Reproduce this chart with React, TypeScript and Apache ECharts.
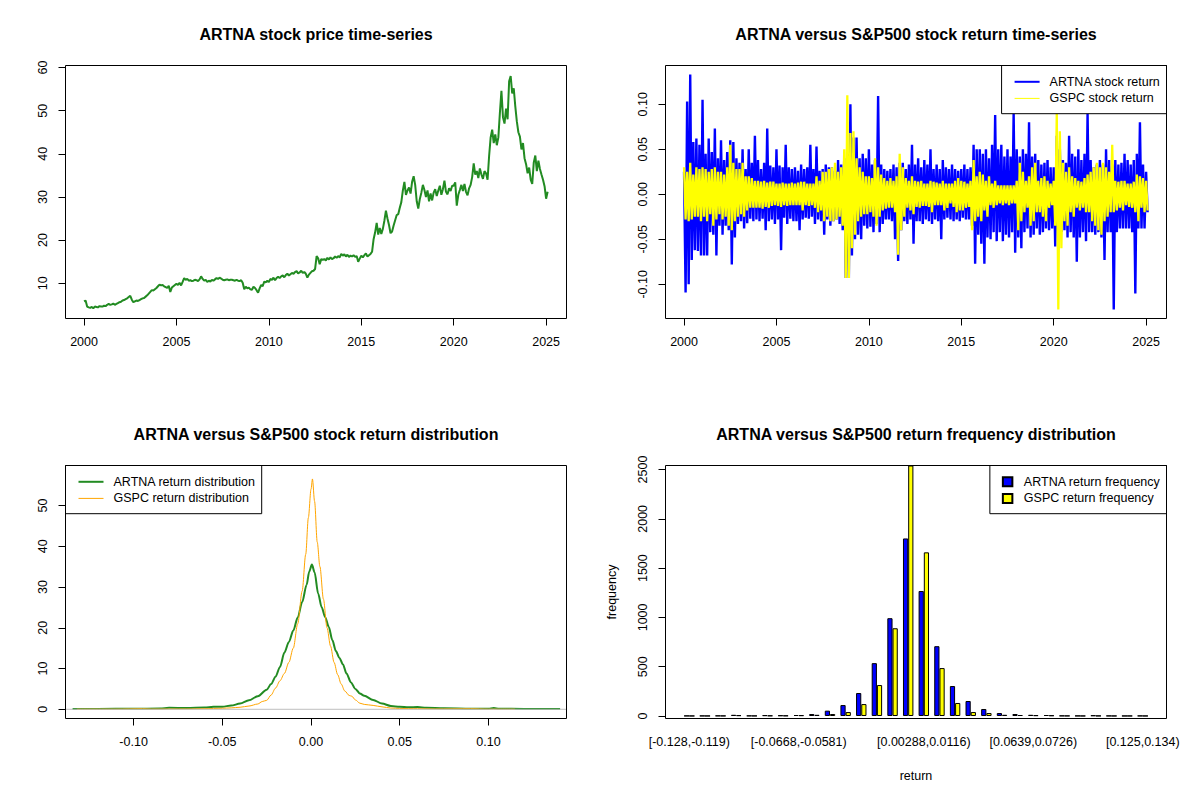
import React, { useEffect, useRef } from 'react';
import * as echarts from 'echarts';

const FONT = '"Liberation Sans", Arial, Helvetica, sans-serif';
const FOREST = '#228B22';
const BLUE = '#0000FF';
const YELLOW = '#FFFF00';
const ORANGE = '#FFA500';

// monthly ARTNA closing price, Jan 2000 .. Feb 2025
const artnaPrice = [
  5.8, 6.0, 4.6, 4.4, 4.3, 4.5, 4.2, 4.6, 4.5, 4.4, 4.7, 4.6, // 2000
  4.6, 4.8, 4.7, 5.0, 5.2, 5.0, 5.1, 5.3, 5.0, 5.2, 5.4, 5.6, // 2001
  5.7, 6.0, 6.1, 6.3, 6.5, 6.8, 7.1, 6.2, 5.6, 5.8, 6.0, 5.9, // 2002
  6.1, 6.3, 6.5, 6.6, 6.9, 7.2, 7.6, 8.0, 8.4, 8.3, 8.6, 8.9, // 2003
  9.3, 9.7, 9.5, 9.6, 9.3, 9.1, 8.9, 9.4, 8.0, 9.0, 9.3, 9.6, // 2004
  9.9, 9.6, 10.1, 9.5, 10.3, 11.2, 10.8, 11.0, 10.6, 10.7, 10.5, 10.6, // 2005
  10.8, 10.7, 10.5, 10.9, 11.6, 11.0, 10.6, 10.8, 10.3, 10.6, 10.4, 10.8, // 2006
  10.6, 10.9, 11.2, 11.0, 11.3, 11.1, 10.8, 10.7, 10.8, 10.9, 10.7, 10.8, // 2007
  10.8, 10.7, 10.6, 10.8, 10.6, 10.5, 10.7, 10.1, 8.6, 9.2, 8.8, 9.0, // 2008
  8.6, 8.5, 9.2, 8.9, 8.4, 7.8, 8.8, 9.6, 9.3, 10.4, 10.2, 10.6, // 2009
  10.3, 11.0, 10.8, 11.3, 10.7, 11.2, 11.5, 11.2, 11.6, 11.8, 11.4, 11.9, // 2010
  12.2, 11.8, 12.1, 12.4, 12.2, 12.6, 12.8, 12.3, 12.5, 12.9, 12.4, 12.6, // 2011
  12.2, 11.3, 12.0, 12.4, 12.8, 12.9, 13.3, 16.3, 15.8, 14.4, 15.6, 15.4, // 2012
  15.6, 15.3, 15.9, 15.5, 16.0, 15.6, 15.8, 16.2, 15.9, 16.3, 16.0, 16.8, // 2013
  16.4, 16.7, 16.2, 16.6, 16.1, 16.4, 16.2, 16.5, 16.1, 16.3, 15.0, 15.7, // 2014
  16.4, 16.0, 16.5, 16.9, 16.2, 16.5, 16.8, 17.3, 20.2, 21.8, 24.0, 21.3, // 2015
  22.8, 21.4, 22.6, 24.5, 26.8, 25.0, 23.5, 21.6, 22.0, 23.4, 24.6, 25.8, // 2016
  26.0, 27.5, 28.8, 31.5, 33.5, 30.5, 31.5, 32.2, 30.8, 33.5, 34.8, 32.8, // 2017
  29.0, 27.3, 29.5, 31.0, 32.8, 31.6, 30.0, 31.5, 29.0, 30.8, 29.2, 31.0, // 2018
  31.8, 30.2, 31.5, 32.6, 30.5, 31.8, 33.8, 31.2, 30.6, 32.0, 31.4, 32.6, // 2019
  32.6, 33.4, 28.0, 30.5, 31.6, 32.8, 31.4, 33.0, 31.2, 30.4, 32.0, 32.8, // 2020
  34.6, 37.8, 35.2, 36.0, 34.4, 36.6, 35.2, 34.2, 36.0, 35.5, 34.0, 39.5, // 2021
  43.8, 45.6, 42.5, 44.5, 42.0, 43.8, 49.5, 54.6, 48.5, 47.0, 50.5, 48.0, // 2022
  56.8, 58.0, 54.0, 55.2, 51.0, 47.5, 45.0, 44.0, 41.0, 42.5, 39.0, 37.6, // 2023
  35.5, 36.8, 34.0, 33.0, 38.0, 39.6, 36.0, 38.4, 36.5, 35.2, 34.0, 32.5, // 2024
  29.6, 31.2, // 2025
];

// sampled ARTNA daily returns (x1000), alternating swings, Jan 2000 .. Feb 2025
const artnaReturn = [
  25, -109, 103, -100, 133, -73, 58, -62, 62, -63, 55, -68, // 2000
  105, -68, 45, -68, 62, -42, 47, -45, 73, -68, 40, -35, // 2001
  60, -45, 38, -35, 47, -40, 60, -78, 58, -48, 40, -33, // 2002
  35, -30, 50, -38, 28, -32, 50, -27, 35, -30, 65, -28, // 2003
  38, -30, 28, -27, 35, -40, 73, -30, 32, -28, 30, -33, // 2004
  50, -28, 32, -62, 30, -26, 55, -33, 30, -27, 28, -30, // 2005
  30, -30, 26, -40, 33, -28, 28, -26, 30, -27, 55, -25, // 2006
  28, -33, 53, -28, 26, -30, 28, -45, 33, -28, 30, -35, // 2007
  30, -30, 26, -28, 38, -33, 33, -40, 40, -93, 45, -93, // 2008
  100, -68, 63, -50, 63, -45, 40, -50, 45, -35, 40, -38, // 2009
  50, -36, 33, -42, 38, -33, 109, -42, 33, -33, 28, -28, // 2010
  26, -28, 28, -30, 33, -50, 30, -74, 35, -40, 35, -30, // 2011
  28, -33, 33, -28, 55, -55, 33, -30, 40, -30, 30, -33, // 2012
  38, -28, 33, -30, 50, -33, 28, -28, 33, -30, 28, -50, // 2013
  38, -28, 30, -26, 28, -28, 33, -30, 28, -28, 26, -30, // 2014
  28, -26, 33, -28, 28, -28, 30, -35, 55, -77, 50, -45, // 2015
  50, -55, 45, -77, 50, -48, 40, -50, 55, -42, 88, -52, // 2016
  50, -42, 55, -52, 42, -45, 50, -48, 42, -42, 90, -65, // 2017
  50, -48, 42, -60, 50, -42, 45, -38, 80, -48, 42, -45, // 2018
  45, -38, 38, -45, 33, -42, 35, -38, 38, -40, 30, -38, // 2019
  30, -58, 65, -60, 50, -42, 38, -40, 35, -48, 65, -42, // 2020
  45, -48, 42, -75, 50, -48, 38, -42, 45, -52, 90, -42, // 2021
  38, -42, 30, -45, 33, -42, 38, -48, 33, -73, 50, -42, // 2022
  38, -42, 33, -128, 38, -42, 33, -38, 35, -38, 45, -38, // 2023
  38, -38, 33, -42, 38, -110, 45, -38, 80, -38, 33, -38, // 2024
  25, -20, // 2025
];

// sampled S&P500 (GSPC) daily returns (x1000)
const gspcReturn = [
  30, -28, 25, -30, 35, -28, 22, -25, 30, -25, 28, -30, // 2000
  30, -25, 28, -30, 25, -22, 28, -35, 30, -28, 25, -22, // 2001
  25, -28, 22, -25, 30, -35, 55, -40, 35, -30, 28, -25, // 2002
  28, -22, 35, -25, 20, -18, 20, -15, 18, -15, 15, -15, // 2003
  15, -15, 14, -16, 15, -14, 13, -15, 14, -13, 14, -12, // 2004
  12, -13, 12, -14, 13, -12, 12, -13, 12, -12, 13, -12, // 2005
  12, -12, 13, -12, 14, -18, 14, -12, 12, -13, 12, -12, // 2006
  12, -15, 20, -20, 15, -18, 25, -30, 25, -25, 28, -30, // 2007
  30, -30, 35, -28, 25, -25, 30, -35, 50, -93, 110, -93, // 2008
  68, -60, 70, -45, 40, -30, 30, -25, 25, -22, 20, -22, // 2009
  20, -20, 18, -25, 40, -35, 30, -25, 22, -18, 18, -16, // 2010
  15, -15, 18, -15, 15, -20, 20, -67, 45, -40, 30, -25, // 2011
  18, -15, 15, -18, 20, -22, 15, -14, 14, -15, 15, -13, // 2012
  12, -13, 12, -14, 15, -20, 14, -12, 13, -12, 12, -12, // 2013
  15, -18, 12, -15, 12, -10, 12, -14, 15, -20, 18, -18, // 2014
  15, -18, 14, -15, 12, -14, 15, -40, 38, -30, 20, -25, // 2015
  25, -30, 22, -18, 15, -25, 20, -12, 12, -15, 15, -12, // 2016
  10, -10, 10, -12, 10, -10, 10, -12, 10, -10, 10, -10, // 2017
  15, -40, 35, -30, 25, -20, 15, -15, 20, -35, 30, -30, // 2018
  35, -20, 15, -20, 18, -25, 20, -30, 15, -15, 12, -12, // 2019
  15, -35, 90, -128, 70, -60, 35, -30, 25, -35, 30, -20, // 2020
  20, -25, 18, -15, 15, -18, 14, -15, 18, -20, 22, -20, // 2021
  25, -30, 30, -35, 35, -40, 30, -45, 35, -30, 30, -25, // 2022
  25, -20, 55, -20, 15, -18, 14, -15, 15, -18, 15, -12, // 2023
  12, -14, 12, -15, 14, -20, 22, -30, 20, -15, 18, -20, // 2024
  15, -18, // 2025
];

// kernel density of returns: [return, density]
const artnaDensity = [
  [-0.1344, 0.1], [-0.12, 0.1], [-0.1, 0.12], [-0.085, 0.2], [-0.08, 0.35], [-0.07, 0.3],
  [-0.06, 0.45], [-0.055, 0.6], [-0.05, 0.65], [-0.045, 0.9], [-0.04, 1.4], [-0.035, 2.2],
  [-0.03, 3.2], [-0.025, 4.8], [-0.0225, 6.2], [-0.02, 8.0], [-0.0175, 10.4], [-0.015, 13.9],
  [-0.0125, 16.5], [-0.01, 19.3], [-0.0075, 22.5], [-0.005, 26.3], [-0.0025, 30.5], [-0.001, 33.8],
  [0.0005, 35.5], [0.002, 33.6], [0.004, 28.4], [0.006, 25.0], [0.008, 22.6], [0.01, 20.2],
  [0.012, 17.0], [0.014, 14.3], [0.016, 12.6], [0.018, 11.0], [0.02, 8.8], [0.0225, 6.6],
  [0.025, 5.0], [0.0275, 3.9], [0.03, 3.3], [0.035, 2.3], [0.04, 1.4], [0.045, 0.8],
  [0.05, 0.6], [0.055, 0.5], [0.06, 0.55], [0.065, 0.35], [0.075, 0.25], [0.09, 0.15],
  [0.1, 0.15], [0.103, 0.3], [0.106, 0.12], [0.12, 0.1], [0.1404, 0.1],
];

const gspcDensity = [
  [-0.132, 0.02], [-0.11, 0.03], [-0.095, 0.15], [-0.09, 0.05], [-0.07, 0.08], [-0.06, 0.15],
  [-0.05, 0.25], [-0.045, 0.35], [-0.04, 0.5], [-0.035, 0.8], [-0.03, 1.3], [-0.0275, 1.9],
  [-0.025, 2.2], [-0.0225, 3.5], [-0.02, 5.2], [-0.0175, 7.0], [-0.015, 8.8], [-0.0125, 11.5],
  [-0.01, 15.0], [-0.0075, 21.0], [-0.005, 29.0], [-0.003, 38.0], [-0.0015, 47.0], [0.0, 54.0],
  [0.0008, 56.5], [0.002, 51.0], [0.0035, 41.0], [0.005, 35.0], [0.007, 27.0], [0.009, 20.0],
  [0.011, 15.5], [0.013, 11.5], [0.015, 8.5], [0.017, 6.2], [0.019, 4.5], [0.0215, 3.4],
  [0.023, 3.2], [0.025, 2.3], [0.0275, 1.5], [0.03, 1.2], [0.035, 0.95], [0.04, 0.6],
  [0.045, 0.3], [0.05, 0.2], [0.06, 0.15], [0.07, 0.08], [0.09, 0.15], [0.1, 0.03], [0.115, 0.02],
];

// histogram bins (30 equal-width bins)
const binLabels = [
  '[-0.128,-0.119)', '[-0.119,-0.11)', '[-0.11,-0.102)', '[-0.102,-0.0929)', '[-0.0929,-0.0842)',
  '[-0.0842,-0.0755)', '[-0.0755,-0.0668)', '[-0.0668,-0.0581)', '[-0.0581,-0.0494)', '[-0.0494,-0.0407)',
  '[-0.0407,-0.032)', '[-0.032,-0.0233)', '[-0.0233,-0.0145)', '[-0.0145,-0.00583)', '[-0.00583,0.00288)',
  '[0.00288,0.0116)', '[0.0116,0.0203)', '[0.0203,0.029)', '[0.029,0.0377)', '[0.0377,0.0464)',
  '[0.0464,0.0551)', '[0.0551,0.0639)', '[0.0639,0.0726)', '[0.0726,0.0813)', '[0.0813,0.09)',
  '[0.09,0.0987)', '[0.0987,0.107)', '[0.107,0.116)', '[0.116,0.125)', '[0.125,0.134)',
];
const shownBins = [0, 7, 15, 22, 29];

const artnaFreq = [
  2, 2, 3, 12, 3, 8, 6, 10, 20, 54, 111, 233, 536, 992, 1801,
  1268, 708, 304, 152, 71, 30, 20, 12, 10, 3, 2, 6, 2, 1, 2,
];
const gspcFreq = [
  1, 1, 2, 8, 2, 4, 4, 8, 12, 20, 40, 121, 314, 890, 2541,
  1660, 486, 132, 40, 30, 12, 10, 8, 6, 2, 1, 2, 1, 1, 1,
];

const yearTicks = [2000, 2005, 2010, 2015, 2020, 2025];
const priceTicks = [10, 20, 30, 40, 50, 60];
const returnTicks = [-0.1, -0.05, 0, 0.05, 0.1];
const densityTicks = [0, 10, 20, 30, 40, 50];
const freqTicks = [0, 500, 1000, 1500, 2000, 2500];

const monthX = (i: number) => 2000 + i / 12;

// panel boxes (R plot regions)
const BOX_W = 501;
const BOX_H = 253;
const LEFT_X = 65.5;
const RIGHT_X = 665.5;
const TOP_Y = 65.5;
const BOTTOM_Y = 465.5;
const HU = BOX_W / 96.12; // barplot unit width in px
const HIST_INSET = 3.06 * HU;

const App: React.FC = () => {
  const chartRef = useRef<HTMLDivElement>(null);

  useEffect(() => {
    if (!chartRef.current) return;
    document.body.style.margin = '0';
    const chart = echarts.init(chartRef.current, null, { renderer: 'svg' });

    const labelStyle = { color: '#000', fontSize: 12.5, fontFamily: FONT };

    const valueAxis = (gridIndex: number, min: number, max: number, ticks: number[],
      fmt: (v: number) => string, isY: boolean, offset = 0) => ({
      type: 'value',
      gridIndex,
      min,
      max,
      offset,
      axisLine: { show: false, onZero: false },
      splitLine: { show: false },
      axisTick: { show: true, length: 7, lineStyle: { color: '#000', width: 1 }, customValues: ticks },
      axisLabel: {
        ...labelStyle,
        customValues: ticks,
        formatter: fmt,
        margin: isY ? 16 : 17,
        rotate: isY ? 90 : 0,
        hideOverlap: false,
      },
    });

    const fmtInt = (v: number) => String(Math.round(v));
    const fmt2 = (v: number) => (Math.abs(v) < 1e-9 ? '0.00' : v.toFixed(2));

    const legendBase = {
      orient: 'vertical',
      backgroundColor: '#fff',
      borderColor: '#000',
      borderWidth: 1,
      borderRadius: 0,
      padding: [8, 6, 7, 12],
      itemGap: 0,
      itemWidth: 25,
      itemHeight: 14,
      selectedMode: false,
      textStyle: { ...labelStyle, lineHeight: 16.6, padding: [0, 0, 0, 5] },
    };

    // line legend entry: plain line, no marker
    const lineEntry = (name: string, width: number) => ({
      name,
      itemStyle: { opacity: 0, borderWidth: 0 },
      lineStyle: { width },
    });

    const titleText = (x: number, y: number, text: string) => ({
      type: 'text',
      x,
      y,
      silent: true,
      style: {
        text,
        fill: '#000',
        fontSize: 16,
        fontWeight: 'bold',
        fontFamily: FONT,
        align: 'center',
        verticalAlign: 'middle',
        textAlign: 'center',
        textVerticalAlign: 'middle',
      },
    });

    const plainText = (x: number, y: number, text: string, rotation = 0) => ({
      type: 'text',
      x,
      y,
      rotation,
      silent: true,
      style: {
        text,
        fill: '#000',
        fontSize: 12.5,
        fontFamily: FONT,
        align: 'center',
        verticalAlign: 'middle',
        textAlign: 'center',
        textVerticalAlign: 'middle',
      },
    });

    const boxRect = (x: number, y: number) => ({
      type: 'rect',
      silent: true,
      z: 100,
      shape: { x, y, width: BOX_W, height: BOX_H },
      style: { fill: 'none', stroke: '#000', lineWidth: 1 },
    });

    const option = {
      animation: false,
      textStyle: { fontFamily: FONT },
      grid: [
        { left: LEFT_X, top: TOP_Y, width: BOX_W, height: BOX_H },
        { left: RIGHT_X, top: TOP_Y, width: BOX_W, height: BOX_H },
        { left: LEFT_X, top: BOTTOM_Y, width: BOX_W, height: BOX_H },
        { left: RIGHT_X + HIST_INSET, top: BOTTOM_Y, width: 90 * HU, height: BOX_H },
      ],
      xAxis: [
        valueAxis(0, 1998.996, 2026.104, yearTicks, fmtInt, false),
        valueAxis(1, 1998.996, 2026.104, yearTicks, fmtInt, false),
        valueAxis(2, -0.1384, 0.144, returnTicks, fmt2, false),
        {
          type: 'category',
          gridIndex: 3,
          data: binLabels,
          axisLine: { show: false, onZero: false },
          axisTick: { show: false },
          splitLine: { show: false },
          axisLabel: {
            ...labelStyle,
            margin: 17,
            interval: (i: number) => shownBins.includes(i),
          },
        },
      ],
      yAxis: [
        valueAxis(0, 1.83, 60.47, priceTicks, fmtInt, true),
        valueAxis(1, -0.1379, 0.143, returnTicks, fmt2, true),
        valueAxis(2, -2.26, 59.8, densityTicks, fmtInt, true),
        valueAxis(3, -25.41, 2541, freqTicks, fmtInt, true, HIST_INSET),
      ],
      legend: [
        {
          ...legendBase,
          right: 1200 - (RIGHT_X + BOX_W),
          top: TOP_Y,
          data: [lineEntry('ARTNA stock return', 2), lineEntry('GSPC stock return', 1)],
        },
        {
          ...legendBase,
          left: LEFT_X,
          top: BOTTOM_Y,
          data: [lineEntry('ARTNA return distribution', 2), lineEntry('GSPC return distribution', 1)],
        },
        {
          ...legendBase,
          right: 1200 - (RIGHT_X + BOX_W),
          top: BOTTOM_Y,
          icon: 'rect',
          itemWidth: 9.5,
          itemHeight: 9,
          textStyle: { ...labelStyle, lineHeight: 16.6, padding: [0, 0, 0, 6.5] },
          data: ['ARTNA return frequency', 'GSPC return frequency'],
        },
      ],
      series: [
        {
          type: 'line',
          name: 'ARTNA price',
          xAxisIndex: 0,
          yAxisIndex: 0,
          symbol: 'none',
          data: artnaPrice.map((v, i) => [monthX(i), v]),
          lineStyle: { color: FOREST, width: 2 },
          itemStyle: { color: FOREST },
        },
        {
          type: 'line',
          name: 'ARTNA stock return',
          xAxisIndex: 1,
          yAxisIndex: 1,
          symbol: 'none',
          data: artnaReturn.map((v, i) => [monthX(i), v / 1000]),
          lineStyle: { color: BLUE, width: 2.4 },
          itemStyle: { color: BLUE },
        },
        {
          type: 'line',
          name: 'GSPC stock return',
          xAxisIndex: 1,
          yAxisIndex: 1,
          symbol: 'none',
          data: gspcReturn.map((v, i) => [monthX(i), v / 1000]),
          lineStyle: { color: YELLOW, width: 2.3 },
          itemStyle: { color: YELLOW },
        },
        {
          type: 'line',
          name: 'ARTNA return distribution',
          xAxisIndex: 2,
          yAxisIndex: 2,
          symbol: 'none',
          smooth: 0.3,
          smoothMonotone: 'x',
          data: artnaDensity,
          lineStyle: { color: FOREST, width: 2 },
          itemStyle: { color: FOREST },
        },
        {
          type: 'line',
          name: 'GSPC return distribution',
          xAxisIndex: 2,
          yAxisIndex: 2,
          symbol: 'none',
          smooth: 0.3,
          smoothMonotone: 'x',
          data: gspcDensity,
          lineStyle: { color: ORANGE, width: 1 },
          itemStyle: { color: ORANGE },
        },
        {
          type: 'line',
          name: 'zero',
          xAxisIndex: 2,
          yAxisIndex: 2,
          symbol: 'none',
          data: [[-0.1384, 0], [0.144, 0]],
          lineStyle: { color: '#BEBEBE', width: 1 },
          itemStyle: { color: '#BEBEBE' },
        },
        {
          type: 'bar',
          name: 'ARTNA return frequency',
          xAxisIndex: 3,
          yAxisIndex: 3,
          barWidth: HU,
          barGap: '0%',
          data: artnaFreq,
          itemStyle: { color: BLUE, borderColor: '#000', borderWidth: 1 },
        },
        {
          type: 'bar',
          name: 'GSPC return frequency',
          xAxisIndex: 3,
          yAxisIndex: 3,
          barWidth: HU,
          barGap: '0%',
          data: gspcFreq,
          itemStyle: { color: YELLOW, borderColor: '#000', borderWidth: 1 },
        },
      ],
      graphic: [
        boxRect(LEFT_X, TOP_Y),
        boxRect(RIGHT_X, TOP_Y),
        boxRect(LEFT_X, BOTTOM_Y),
        boxRect(RIGHT_X, BOTTOM_Y),
        titleText(LEFT_X + BOX_W / 2, 34.5, 'ARTNA stock price time-series'),
        titleText(RIGHT_X + BOX_W / 2, 34.5, 'ARTNA versus S&P500 stock return time-series'),
        titleText(LEFT_X + BOX_W / 2, 434.5, 'ARTNA versus S&P500 stock return distribution'),
        titleText(RIGHT_X + BOX_W / 2, 434.5, 'ARTNA versus S&P500 return frequency distribution'),
        plainText(RIGHT_X + BOX_W / 2, 775.5, 'return'),
        plainText(612, BOTTOM_Y + BOX_H / 2, 'frequency', Math.PI / 2),
      ],
    };

    chart.setOption(option as any);

    return () => {
      chart.dispose();
    };
  }, []);

  return (
    <div
      ref={chartRef}
      style={{ position: 'absolute', left: 0, top: 0, width: 1200, height: 800, background: '#fff' }}
    />
  );
};

export default App;
